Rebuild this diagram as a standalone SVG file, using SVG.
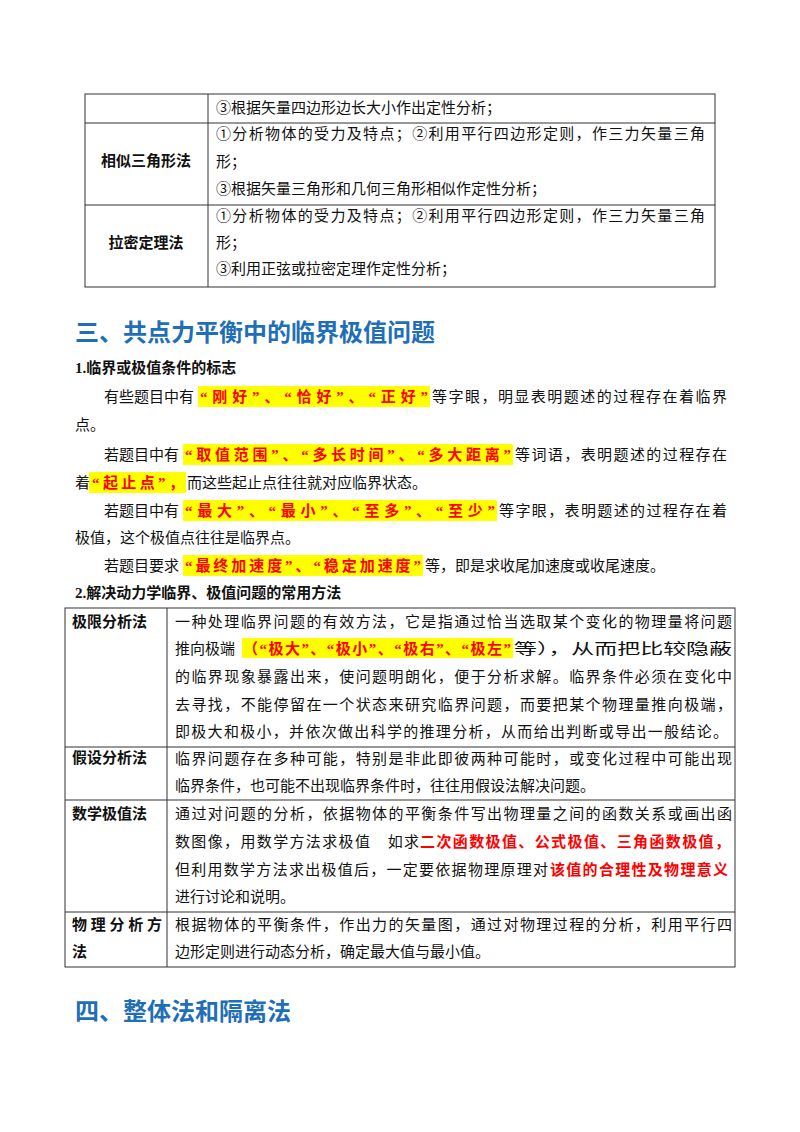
<svg xmlns="http://www.w3.org/2000/svg" width="800" height="1132" viewBox="0 0 800 1132">
<style>
text{font-family:"Liberation Serif","Noto Sans CJK SC",serif;font-size:15px;fill:#111}
.b{font-weight:bold}
.r{fill:#f00;font-weight:bold}
.h{font-size:24px;font-weight:bold;fill:#1f6fb8}
.hl{fill:#ffff00}
.ln{stroke:#333;stroke-width:1;fill:none}
</style>
<rect width="800" height="1132" fill="#fff"/>
<g id="table1">
<rect class="ln" x="85" y="94" width="630" height="193"/>
<line class="ln" x1="208" y1="94" x2="208" y2="287"/>
<line class="ln" x1="85" y1="123" x2="715" y2="123"/>
<line class="ln" x1="85" y1="205" x2="715" y2="205"/>
<text x="216" y="113">③根据矢量四边形边长大小作出定性分析；</text>
<text class="b" x="146" y="166" text-anchor="middle">相似三角形法</text>
<text x="216" y="139" textLength="489">①分析物体的受力及特点；②利用平行四边形定则，作三力矢量三角</text>
<text x="216" y="167">形；</text>
<text x="216" y="194">③根据矢量三角形和几何三角形相似作定性分析；</text>
<text class="b" x="146" y="248" text-anchor="middle">拉密定理法</text>
<text x="216" y="221" textLength="489">①分析物体的受力及特点；②利用平行四边形定则，作三力矢量三角</text>
<text x="216" y="248">形；</text>
<text x="216" y="274">③利用正弦或拉密定理作定性分析；</text>
</g>
<g id="section3">
<text class="h" x="75" y="341">三、共点力平衡中的临界极值问题</text>
<text class="b" x="75" y="373">1.临界或极值条件的标志</text>
<rect class="hl" x="198" y="386" width="232" height="21"/>
<text x="104" y="402">有些题目中有</text>
<text class="r" x="200" y="402" textLength="228">“刚好”、“恰好”、“正好”</text>
<text x="432" y="402" textLength="295">等字眼，明显表明题述的过程存在着临界</text>
<text x="75" y="430">点。</text>
<rect class="hl" x="183" y="444" width="330" height="21"/>
<text x="104" y="460">若题目中有</text>
<text class="r" x="185" y="460" textLength="326">“取值范围”、“多长时间”、“多大距离”</text>
<text x="515" y="460" textLength="212">等词语，表明题述的过程存在</text>
<rect class="hl" x="89" y="472" width="97" height="21"/>
<text x="75" y="488">着</text>
<text class="r" x="92" y="488" textLength="92">“起止点”，</text>
<text x="187" y="488">而这些起止点往往就对应临界状态。</text>
<rect class="hl" x="183" y="500" width="314" height="21"/>
<text x="104" y="516">若题目中有</text>
<text class="r" x="185" y="516" textLength="310">“最大”、“最小”、“至多”、“至少”</text>
<text x="499" y="516" textLength="228">等字眼，表明题述的过程存在着</text>
<text x="75" y="543">极值，这个极值点往往是临界点。</text>
<rect class="hl" x="183" y="555" width="240" height="21"/>
<text x="104" y="571">若题目要求</text>
<text class="r" x="185" y="571" textLength="236">“最终加速度”、“稳定加速度”</text>
<text x="425" y="571">等，即是求收尾加速度或收尾速度。</text>
<text class="b" x="75" y="598">2.解决动力学临界、极值问题的常用方法</text>
</g>
<g id="table2">
<rect class="ln" x="65" y="608" width="670" height="359"/>
<line class="ln" x1="167" y1="608" x2="167" y2="967"/>
<line class="ln" x1="65" y1="747" x2="735" y2="747"/>
<line class="ln" x1="65" y1="800" x2="735" y2="800"/>
<line class="ln" x1="65" y1="912" x2="735" y2="912"/>
<text class="b" x="72" y="627">极限分析法</text>
<text x="175" y="627" textLength="557">一种处理临界问题的有效方法，它是指通过恰当选取某个变化的物理量将问题</text>
<rect class="hl" x="242" y="638" width="271" height="20"/>
<text x="175" y="654">推向极端</text>
<text class="r" x="243" y="654" textLength="268">（“极大”、“极小”、“极右”、“极左”</text>
<text x="514" y="654" textLength="218" lengthAdjust="spacingAndGlyphs">等），从而把比较隐蔽</text>
<text x="175" y="682" textLength="557">的临界现象暴露出来，使问题明朗化，便于分析求解。临界条件必须在变化中</text>
<text x="175" y="710" textLength="557">去寻找，不能停留在一个状态来研究临界问题，而要把某个物理量推向极端，</text>
<text x="175" y="737" textLength="553">即极大和极小，并依次做出科学的推理分析，从而给出判断或导出一般结论。</text>
<text class="b" x="72" y="763">假设分析法</text>
<text x="175" y="764" textLength="557">临界问题存在多种可能，特别是非此即彼两种可能时，或变化过程中可能出现</text>
<text x="175" y="791">临界条件，也可能不出现临界条件时，往往用假设法解决问题。</text>
<text class="b" x="72" y="819">数学极值法</text>
<text x="175" y="819" textLength="557">通过对问题的分析，依据物体的平衡条件写出物理量之间的函数关系或画出函</text>
<text x="175" y="847" textLength="244">数图像，用数学方法求极值　如求</text>
<text class="r" x="420" y="847" textLength="310">二次函数极值、公式极值、三角函数极值，</text>
<text x="175" y="875" textLength="373">但利用数学方法求出极值后，一定要依据物理原理对</text>
<text class="r" x="550" y="875" textLength="178">该值的合理性及物理意义</text>
<text x="175" y="902">进行讨论和说明。</text>
<text class="b" x="72" y="930" textLength="90">物理分析方</text>
<text class="b" x="72" y="957">法</text>
<text x="175" y="930" textLength="557">根据物体的平衡条件，作出力的矢量图，通过对物理过程的分析，利用平行四</text>
<text x="175" y="957">边形定则进行动态分析，确定最大值与最小值。</text>
</g>
<g id="section4">
<text class="h" x="75" y="1020">四、整体法和隔离法</text>
</g>
</svg>
